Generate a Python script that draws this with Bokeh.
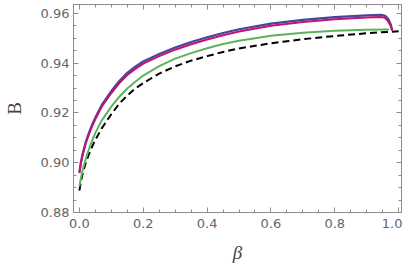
from bokeh.plotting import figure
from bokeh.models import Range1d, LinearAxis, FixedTicker
from bokeh.embed import file_html
from bokeh.resources import INLINE

# ---- data ----
beta_black = [0.0, 0.005, 0.01, 0.02, 0.03, 0.04, 0.05, 0.07, 0.1, 0.125, 0.15, 0.175, 0.2, 0.25,
              0.3, 0.35, 0.4, 0.45, 0.5, 0.6, 0.7, 0.8, 0.9, 1.0]
B_black = [0.8888, 0.8925, 0.8955, 0.9, 0.9035, 0.9065, 0.9092, 0.9138, 0.9195, 0.9237, 0.927, 0.9298,
           0.932, 0.9358, 0.9387, 0.941, 0.9428, 0.9445, 0.9459, 0.948, 0.9496, 0.9509, 0.952, 0.9528]

beta_green = [0.0, 0.005, 0.01, 0.02, 0.03, 0.04, 0.05, 0.07, 0.1, 0.125, 0.15, 0.175, 0.2, 0.25,
              0.3, 0.35, 0.4, 0.45, 0.5, 0.6, 0.7, 0.8, 0.9, 0.97]
B_green = [0.8905, 0.894, 0.897, 0.9015, 0.9055, 0.909, 0.912, 0.917, 0.9225, 0.9265, 0.9298, 0.9325,
           0.935, 0.9388, 0.9418, 0.944, 0.946, 0.9477, 0.949, 0.951, 0.9522, 0.953, 0.9534, 0.9535]

beta_mag = [0.0, 0.005, 0.01, 0.02, 0.03, 0.04, 0.05, 0.07, 0.1, 0.125, 0.15, 0.175, 0.2, 0.25,
            0.3, 0.35, 0.4, 0.45, 0.5, 0.6, 0.7, 0.8, 0.9, 0.94, 0.955, 0.965, 0.975, 0.98]
B_mag = [0.8958, 0.9, 0.903, 0.9078, 0.9115, 0.9147, 0.9175, 0.9225, 0.928, 0.932, 0.9352, 0.9377,
         0.9398, 0.9428, 0.9454, 0.9476, 0.9495, 0.9512, 0.9527, 0.955, 0.9565, 0.9576, 0.9583,
         0.9585, 0.9583, 0.9572, 0.955, 0.953]

beta_blue = [0.0, 0.005, 0.01, 0.02, 0.03, 0.04, 0.05, 0.07, 0.1, 0.125, 0.15, 0.175, 0.2, 0.25,
             0.3, 0.35, 0.4, 0.45, 0.5, 0.6, 0.7, 0.8, 0.9, 0.945, 0.958, 0.968, 0.976, 0.98]
B_blue = [0.8962, 0.9004, 0.9035, 0.9083, 0.9121, 0.9153, 0.9182, 0.9232, 0.9288, 0.9328, 0.9361,
          0.9386, 0.9407, 0.9437, 0.9463, 0.9485, 0.9504, 0.9521, 0.9536, 0.9559, 0.9574, 0.9585,
          0.9592, 0.9594, 0.959, 0.9576, 0.9553, 0.953]

x_ticks = [0.0, 0.2, 0.4, 0.6, 0.8, 1.0]
y_ticks = [0.88, 0.90, 0.92, 0.94, 0.96]
x_tick_labels = ["0.0", "0.2", "0.4", "0.6", "0.8", "1.0"]
y_tick_labels = ["0.88", "0.90", "0.92", "0.94", "0.96"]
x_minor = [round(i * 0.05, 3) for i in range(0, 21)]
y_minor = [round(0.88 + i * 0.005, 4) for i in range(0, 17)]

FRAME = "#8c8c8c"
p = figure(width=402, height=265, output_backend="svg", toolbar_location=None,
           x_range=Range1d(-0.0185, 1.009), y_range=Range1d(0.88, 0.96355),
           min_border_left=67, min_border_right=1, min_border_top=4, min_border_bottom=49)
p.grid.visible = False
p.outline_line_color = FRAME
p.outline_line_width = 1
p.background_fill_color = "white"

for ax in [p.xaxis[0], p.yaxis[0]]:
    ax.axis_line_color = FRAME
    ax.major_tick_line_color = FRAME
    ax.minor_tick_line_color = FRAME
    ax.major_tick_in = 5
    ax.major_tick_out = 0
    ax.minor_tick_in = 3
    ax.minor_tick_out = 0
    ax.major_label_text_color = "#666666"
    ax.major_label_text_font = "DejaVu Sans"
    ax.major_label_text_font_size = "13px"
    ax.axis_label_text_color = "#444444"
    ax.axis_label_text_font = "Liberation Serif"
    ax.axis_label_text_font_size = "19px"

p.xaxis[0].ticker = FixedTicker(ticks=x_ticks, minor_ticks=x_minor)
p.yaxis[0].ticker = FixedTicker(ticks=y_ticks, minor_ticks=y_minor)
p.xaxis[0].major_label_overrides = dict(zip(x_ticks, x_tick_labels))
p.yaxis[0].major_label_overrides = dict(zip(y_ticks, y_tick_labels))
p.xaxis[0].major_label_standoff = 6
p.yaxis[0].major_label_standoff = 4
p.xaxis[0].axis_label = "β"
p.xaxis[0].axis_label_text_font_style = "italic"
p.xaxis[0].axis_label_standoff = 11
p.yaxis[0].axis_label = "B"
p.yaxis[0].axis_label_text_font_style = "normal"
p.yaxis[0].axis_label_standoff = 13

# mirror ticks on top and right
top = LinearAxis(ticker=FixedTicker(ticks=x_ticks, minor_ticks=x_minor))
right = LinearAxis(ticker=FixedTicker(ticks=y_ticks, minor_ticks=y_minor))
for ax in [top, right]:
    ax.axis_line_color = FRAME
    ax.major_tick_line_color = FRAME
    ax.minor_tick_line_color = FRAME
    ax.major_tick_in = 5
    ax.major_tick_out = 0
    ax.minor_tick_in = 3
    ax.minor_tick_out = 0
    ax.major_label_text_font_size = "0px"
    ax.major_label_text_alpha = 0
    ax.major_label_standoff = 0
p.add_layout(top, "above")
p.add_layout(right, "right")

p.line(beta_black, B_black, line_color="black", line_width=2, line_dash="7 4")
p.line(beta_green, B_green, line_color="#5cb35c", line_width=2)
p.line(beta_blue, B_blue, line_color="#45459f", line_width=2.2)
p.line(beta_mag, B_mag, line_color="#c0156e", line_width=2)

open("out.html", "w").write(file_html(p, INLINE))
